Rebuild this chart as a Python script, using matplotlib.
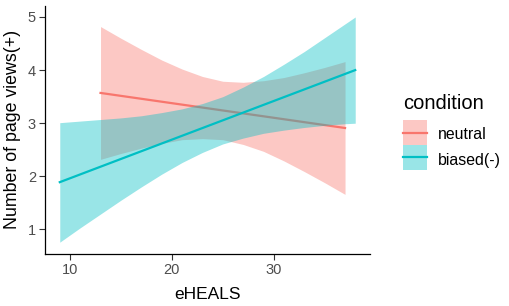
import numpy as np
import matplotlib
matplotlib.use('Agg')
import matplotlib.pyplot as plt
from matplotlib.patches import Rectangle
from matplotlib.lines import Line2D

plt.rcParams['font.family'] = ['Liberation Sans', 'DejaVu Sans']

conditions = ['neutral', 'biased(-)']
colors = ['#F8766D', '#00BFC4']

# fitted lines (end points)
neutral_x = [13, 37]
neutral_y = [3.57, 2.91]
biased_x = [9, 38]
biased_y = [1.89, 4.00]

# confidence bands
neutral_band_x = [13, 15, 17, 19, 21, 23, 25, 27, 29, 31, 33, 35, 37]
neutral_upper = [4.82, 4.60, 4.39, 4.19, 4.02, 3.88, 3.79, 3.77, 3.80, 3.86, 3.95, 4.05, 4.16]
neutral_lower = [2.32, 2.43, 2.53, 2.62, 2.69, 2.71, 2.69, 2.60, 2.47, 2.29, 2.09, 1.88, 1.66]

biased_band_x = [9, 11, 13, 15, 17, 19, 21, 23, 25, 27, 29, 31, 33, 35, 37, 38]
biased_upper = [3.01, 3.04, 3.07, 3.10, 3.14, 3.20, 3.27, 3.37, 3.50, 3.68, 3.88, 4.11, 4.35, 4.61, 4.87, 5.00]
biased_lower = [0.76, 1.03, 1.29, 1.55, 1.80, 2.04, 2.26, 2.45, 2.61, 2.72, 2.81, 2.87, 2.92, 2.96, 2.99, 3.00]

W, H = 510, 306
fig = plt.figure(figsize=(W / 100, H / 100), dpi=100)
ax = fig.add_axes([45 / W, 1 - 254 / H, 325 / W, 248.3 / H])

# same drawing order as ggplot: ribbon then line, group by group
ax.fill_between(neutral_band_x, neutral_lower, neutral_upper, color=colors[0], alpha=0.4, lw=0, zorder=1)
ax.plot(neutral_x, neutral_y, color=colors[0], lw=1.6, zorder=2)
ax.fill_between(biased_band_x, biased_lower, biased_upper, color=colors[1], alpha=0.4, lw=0, zorder=3)
ax.plot(biased_x, biased_y, color=colors[1], lw=1.6, zorder=4)

ax.set_xlim(7.55, 39.45)
ax.set_ylim(0.5375, 5.2125)
ax.set_xticks([10, 20, 30])
ax.set_yticks([1, 2, 3, 4, 5])

for s in ['top', 'right']:
    ax.spines[s].set_visible(False)
for s in ['left', 'bottom']:
    ax.spines[s].set_color('black')
    ax.spines[s].set_linewidth(0.9)

ax.tick_params(axis='both', length=4, width=0.8, color='#333333', labelcolor='#4D4D4D', labelsize=10.5, pad=2.5)
ax.set_xlabel('eHEALS', fontsize=12.5, color='black', labelpad=7)
ax.set_ylabel('Number of page views(+)', fontsize=12.8, color='black', labelpad=5)

# legend drawn by hand, ggplot style (pixel positions of the keys)
def fx(px):
    return px / W

def fy(py):
    return 1 - py / H

fig.text(fx(403), fy(109), 'condition', fontsize=14.5, color='black', va='baseline', ha='left')
key_top = [120, 145]
label_base = [139.5, 164.5]
for i in range(len(conditions)):
    fig.add_artist(Rectangle((fx(403), fy(key_top[i] + 25)), 24 / W, 25 / H,
                             transform=fig.transFigure, facecolor=colors[i], alpha=0.4, lw=0))
    fig.add_artist(Line2D([fx(403), fx(427)], [fy(key_top[i] + 12.5)] * 2,
                          transform=fig.transFigure, color=colors[i], lw=1.6))
    fig.text(fx(438), fy(label_base[i]), conditions[i], fontsize=11.4, color='black', va='baseline', ha='left')

fig.savefig('out.png', dpi=100)
